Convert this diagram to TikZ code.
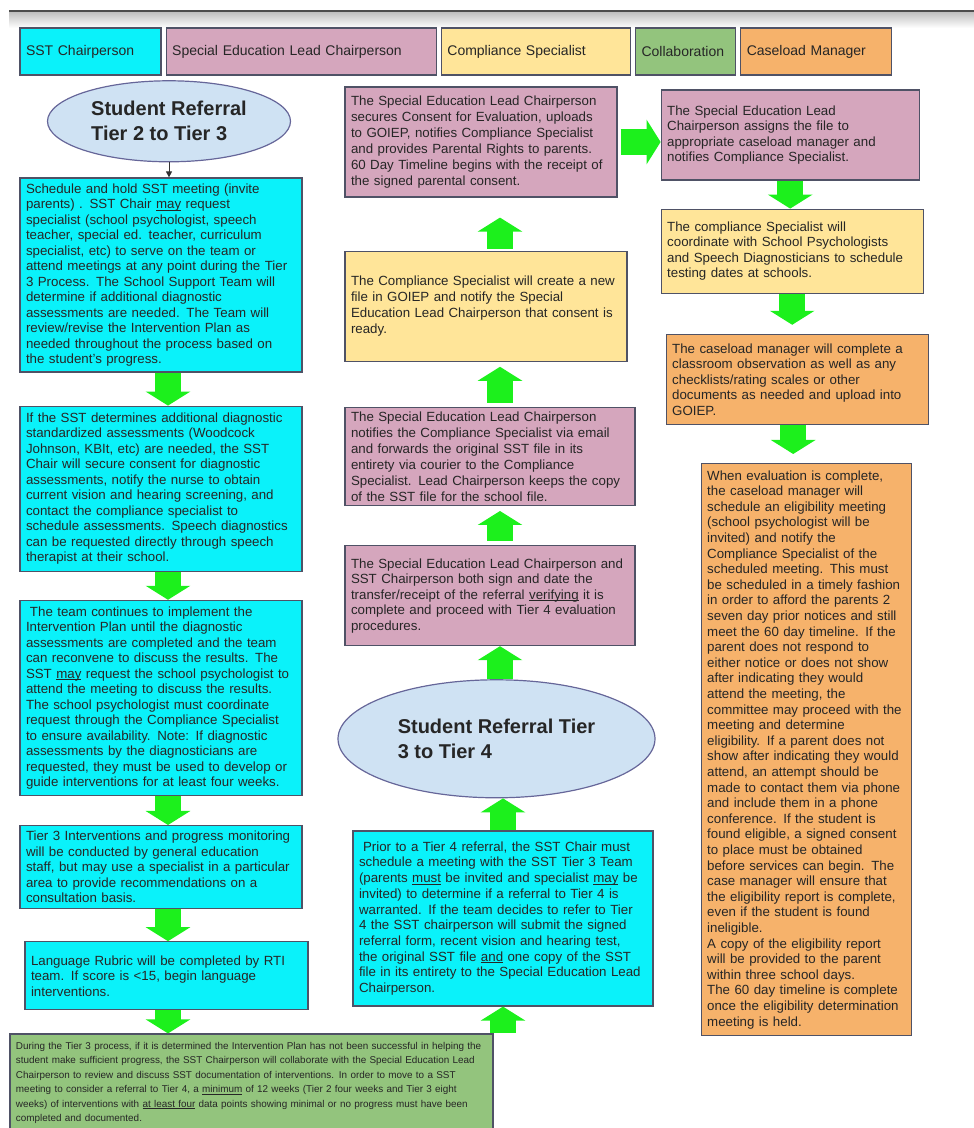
\documentclass[tikz,border=0pt]{standalone}
\usepackage{fontspec}
\setmainfont{Liberation Sans}
\usetikzlibrary{positioning,shapes.geometric,arrows.meta}

\definecolor{sstc}{HTML}{0AF2FA}
\definecolor{selc}{HTML}{D5A6BD}
\definecolor{csc}{HTML}{FFE599}
\definecolor{colc}{HTML}{93C47D}
\definecolor{cmc}{HTML}{F6B26B}
\definecolor{refc}{HTML}{CFE2F3}
\definecolor{edge}{HTML}{4F5266}
\definecolor{flowc}{HTML}{1CF01C}

\newcommand{\boxfont}{\fontsize{13.3}{15.5}\selectfont}
\newcommand{\undr}[1]{\setbox0\hbox{#1}\rlap{\rule[-1.6pt]{\wd0}{0.6pt}}\box0\relax}

\begin{document}
\begin{tikzpicture}[x=1pt, y=1pt,
    main/.style = {draw=edge, line width=1.2pt, rectangle, align=left, inner xsep=6pt, inner ysep=2pt, font=\boxfont, text=black!85},
    sstbox/.style = {main, fill=sstc},
    selbox/.style = {main, fill=selc},
    csbox/.style = {main, fill=csc},
    colbox/.style = {main, fill=colc},
    cmbox/.style = {main, fill=cmc},
    keybox/.style = {minimum height=47pt, font=\fontsize{14}{16}\selectfont},
    referral/.style = {ellipse, draw=gray!80!blue, line width=1.2pt, fill=refc, align=left, inner sep=0pt, text=black!85, font=\fontsize{20}{25}\selectfont\bfseries},
    flow/.style = {draw=flowc, line width=26pt, -{Triangle[width=44pt,length=14pt]}}]

            \useasboundingbox (0,0) rectangle (974,1128);
            \shade[top color=black!25, bottom color=white] (9,1116) rectangle (974,1100);
            \draw[line width=2.5pt, black!70] (9,1117) -- (974,1117);

            %legend
            \node[sstbox, keybox, text width=129pt] (KEYSST) at (90.5,1076.5) {SST Chairperson};
            \node[selbox, keybox, text width=258pt] (KEYSEL) [right=4pt of KEYSST] {Special Education Lead Chairperson};
            \node[csbox, keybox, text width=177pt] (KEYCS) [right=4pt of KEYSEL] {Compliance Specialist};
            \node[colbox, keybox, text width=88pt] (KEYCOL) [right=4pt of KEYCS] {Collaboration};
            \node[cmbox, keybox, text width=139pt] (KEYCM) [right=4pt of KEYCOL] {Caseload Manager};

            %left column, tier 2 to tier 3

            \node[sstbox, text width=270pt, minimum height=194pt] (SSTMEET) at (161,853) {Schedule and hold  SST meeting (invite\\
            parents) .   SST Chair \undr{may} request\\
            specialist (school psychologist, speech\\
            teacher, special ed. teacher, curriculum\\
            specialist, etc)  to serve on the team or\\
            attend meetings at any point during the Tier\\
            3 Process.  The School Support Team will\\
            determine if additional diagnostic\\
            assessments are needed.  The Team will\\
            review/revise the Intervention Plan as\\
            needed throughout the process based on\\
            the student's progress.};
            \node[referral, minimum width=243pt, minimum height=81pt] (REF23) [above=15pt of SSTMEET, xshift=8pt] {Student Referral\\Tier 2 to Tier 3};
            \node[sstbox, text width=270pt, minimum height=165pt] (SSTDIAG) [below=33pt of SSTMEET] {If the SST determines additional diagnostic\\
            standardized assessments (Woodcock\\
            Johnson, KBIt, etc) are needed, the SST\\
            Chair will secure consent for diagnostic\\
            assessments, notify the nurse to obtain\\
            current vision and hearing screening, and\\
            contact the compliance specialist to\\
            schedule assessments.  Speech diagnostics\\
            can be requested directly through speech\\
            therapist at their school.};
            \node[sstbox, text width=270pt, minimum height=195pt] (SSTCONT) [below=28pt of SSTDIAG] {\hspace{4pt}The team continues to implement the\\
            Intervention Plan until the diagnostic\\
            assessments are completed and the team\\
            can reconvene to discuss the  results. The\\
            SST \undr{may} request the school psychologist to\\
            attend the meeting to discuss the results.\\
            The school psychologist must coordinate\\
            request through the Compliance Specialist\\
            to ensure availability.  Note:   If diagnostic\\
            assessments by the diagnosticians are\\
            requested, they must be used to develop or\\
            guide interventions for at least four weeks.};
            \node[sstbox, text width=270pt, minimum height=83pt] (SSTMON) [below=29pt of SSTCONT] {Tier 3 Interventions and progress monitoring\\
            will be conducted  by general education\\
            staff, but may use a specialist in a particular\\
            area to provide recommendations on a\\
            consultation basis.};
            \node[sstbox, text width=271pt, minimum height=68pt] (SSTRUB) [below=32pt of SSTMON, xshift=5.5pt] {Language Rubric will be completed by RTI\\
            team. If score is <15, begin language\\
            interventions.};
            \node[colbox, text width=471pt, minimum height=98pt, font=\fontsize{9.9}{14.5}\selectfont] (COLLAB) [below=23pt of SSTRUB, xshift=85pt] {During the Tier 3 process, if it is determined the Intervention Plan has not  been successful in helping the\\
            student make sufficient progress, the SST Chairperson will collaborate with the Special Education Lead\\
            Chairperson to review and discuss SST documentation of interventions.  In order to move to a SST\\
            meeting  to consider a referral to Tier 4, a \undr{minimum} of 12 weeks (Tier 2 four weeks and Tier 3 eight\\
            weeks) of interventions with \undr{at least four} data points showing minimal or no progress must have been\\
            completed and documented.};
            \draw[-{Triangle[length=6pt,width=6pt]}, line width=1pt, black!80] (REF23.south) -- (REF23.south |- SSTMEET.north);
            \draw[flow] ([xshift=7pt]SSTMEET.south) -- ([xshift=7pt]SSTDIAG.north);
            \draw[flow] ([xshift=7pt]SSTDIAG.south) -- ([xshift=7pt]SSTCONT.north);
            \draw[flow] ([xshift=7pt]SSTCONT.south) -- ([xshift=7pt]SSTMON.north);
            \draw[flow] ([xshift=7pt]SSTMON.south) -- ([xshift=7pt]SSTMON.south |- SSTRUB.north);
            \draw[flow] ([xshift=1.5pt]SSTRUB.south) -- ([xshift=1.5pt]SSTRUB.south |- COLLAB.north);

            %middle column, tier 3 to tier 4

            \node[selbox, text width=260pt, minimum height=110pt, font=\fontsize{13.3}{16}\selectfont] (SELCONS) at (481,986) {The Special Education Lead Chairperson\\
            secures Consent for Evaluation, uploads\\
            to GOIEP, notifies Compliance Specialist\\
            and provides Parental Rights to parents.\\
            60 Day Timeline begins with the receipt of\\
            the signed parental consent.};
            \node[csbox, text width=270pt, minimum height=110pt, font=\fontsize{13.3}{16}\selectfont] (CSFILE) [below=53pt of SELCONS, xshift=5pt] {The Compliance Specialist will create a new\\
            file in GOIEP and notify the Special\\
            Education Lead Chairperson that consent is\\
            ready.};
            \node[selbox, text width=278pt, minimum height=98pt, font=\fontsize{13.3}{16}\selectfont] (SELFWD) [below=45pt of CSFILE, xshift=4pt] {The Special Education Lead Chairperson\\
            notifies the Compliance Specialist via email\\
            and forwards the original SST file in its\\
            entirety via courier to the Compliance\\
            Specialist. Lead Chairperson keeps the copy\\
            of the SST file for the school file.};
            \node[selbox, text width=278pt, minimum height=100pt] (SELSIGN) [below=39pt of SELFWD] {The Special Education Lead Chairperson and\\
            SST Chairperson both sign and date the\\
            transfer/receipt of the referral \undr{verifying} it is\\
            complete and proceed with Tier 4 evaluation\\
            procedures.};
            \node[referral, minimum width=317pt, minimum height=118pt] (REF34) [below=33pt of SELSIGN, xshift=6.5pt] {Student Referral Tier\\3 to Tier 4};
            \node[sstbox, text width=288pt, minimum height=175pt, font=\fontsize{13.3}{15.7}\selectfont] (SSTPRIOR) [below=32pt of REF34, xshift=6.5pt] {\hspace{4pt}Prior to a Tier 4 referral, the SST Chair must\\
            schedule a meeting with the SST Tier 3 Team\\
            (parents \undr{must}  be invited and specialist \undr{may} be\\
            invited) to determine if a referral to Tier 4 is\\
            warranted.  If the team decides to refer to Tier\\
            4 the SST chairperson will submit the signed\\
            referral form, recent vision and hearing test,\\
            the original  SST file \undr{and} one copy of the SST\\
            file in its entirety to the Special Education Lead\\
            Chairperson.};
            \draw[flow] (COLLAB.north -| SSTPRIOR.center) -- (SSTPRIOR.south);
            \draw[flow] (SSTPRIOR.north) -- (SSTPRIOR.north |- REF34.south);
            \draw[flow] ([xshift=3.5pt]REF34.north) -- ([xshift=3.5pt]REF34.north |- SELSIGN.south);
            \draw[flow, shorten <=4pt, shorten >=5pt] ([xshift=10pt]SELSIGN.north) -- ([xshift=10pt]SELFWD.south);
            \draw[flow, shorten <=4pt, shorten >=5pt] ([xshift=10pt]SELFWD.north) -- ([xshift=14pt]CSFILE.south);
            \draw[flow, shorten <=2pt, shorten >=20pt] ([xshift=14pt]CSFILE.north) -- ([xshift=19pt]SELCONS.south);

            %right column, evaluation

            \node[selbox, text width=246pt, minimum height=90pt] (SELASSIGN) [right=43pt of SELCONS, yshift=7pt] {The Special Education Lead\\
            Chairperson assigns the file to\\
            appropriate caseload manager and\\
            notifies Compliance Specialist.};
            \node[csbox, text width=250pt, minimum height=84pt] (CSDATES) [below=28pt of SELASSIGN, xshift=2pt] {The compliance Specialist will\\
            coordinate with School Psychologists\\
            and Speech Diagnosticians to schedule\\
            testing dates at schools.};
            \node[cmbox, text width=250pt, minimum height=90pt] (CMOBS) [below=40pt of CSDATES, xshift=5pt] {The caseload manager will complete a\\
            classroom observation as well as any\\
            checklists/rating scales or other\\
            documents as needed and upload into\\
            GOIEP.};
            \node[cmbox, text width=198pt, minimum height=572pt, font=\fontsize{13.3}{15.6}\selectfont] (CMELIG) [below=38pt of CMOBS, xshift=9pt] {When evaluation is complete,\\
            the caseload manager will\\
            schedule an eligibility meeting\\
            (school psychologist will be\\
            invited) and notify the\\
            Compliance Specialist of the\\
            scheduled meeting.  This must\\
            be scheduled in a timely fashion\\
            in order to afford the parents 2\\
            seven day prior notices and still\\
            meet the 60 day timeline.  If the\\
            parent does not respond to\\
            either notice or does not show\\
            after indicating they would\\
            attend the meeting, the\\
            committee may proceed with the\\
            meeting and determine\\
            eligibility.  If a parent does not\\
            show after indicating they would\\
            attend, an attempt should be\\
            made to contact them via phone\\
            and include them in a phone\\
            conference.  If the student is\\
            found eligible, a signed consent\\
            to place must be obtained\\
            before services can begin.  The\\
            case manager will ensure that\\
            the eligibility report is complete,\\
            even if the student is found\\
            ineligible.\\
            A copy of the eligibility report\\
            will be provided to the parent\\
            within three school days.\\
            The 60 day timeline is complete\\
            once the eligibility determination\\
            meeting is held.};
            \draw[flow, shorten <=3pt] (SELCONS.east) -- (SELCONS.east -| SELASSIGN.west);
            \draw[flow] (SELASSIGN.south) -- (SELASSIGN.south |- CSDATES.north);
            \draw[flow, shorten >=9pt] (CSDATES.south) -- (CSDATES.south |- CMOBS.north);
            \draw[flow, shorten >=9pt] ([xshift=-4pt]CMOBS.south) -- ([xshift=-4pt]CMOBS.south |- CMELIG.north);
        \end{tikzpicture}
\end{document}
